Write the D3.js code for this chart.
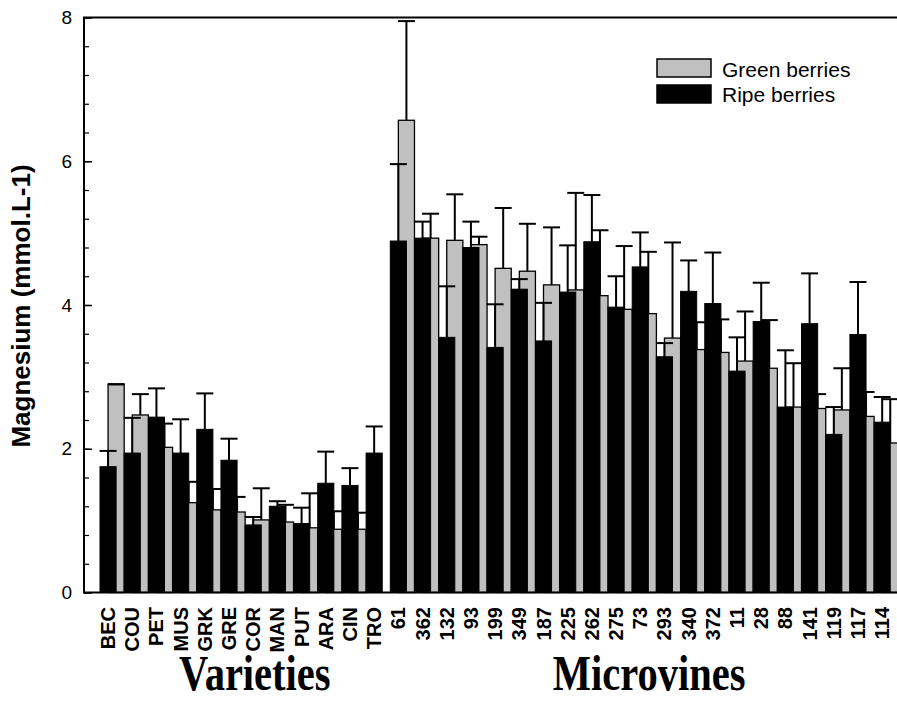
<!DOCTYPE html>
<html><head><meta charset="utf-8">
<script src="https://cdn.jsdelivr.net/npm/d3@7"></script>
<style>body{margin:0;background:#fff}svg{display:block}</style>
</head><body>
<svg id="chart" width="897" height="715"></svg>
<script>
const categories = ["BEC","COU","PET","MUS","GRK","GRE","COR","MAN","PUT","ARA","CIN","TRO",
  "61","362","132","93","199","349","187","225","262","275","73","293","340","372","11","28","88","141","119","117","114"];
const greenBerries = [2.89,2.47,2.02,1.25,1.15,1.12,1.01,0.98,0.90,0.88,0.88,null,
  6.57,4.93,4.90,4.84,4.51,4.47,4.28,4.21,4.13,3.94,3.88,3.54,3.38,3.34,3.22,3.12,2.58,2.56,2.54,2.45,2.08];
const greenErr = [0.01,0.29,0.33,0.29,0.29,0.21,0.44,0.24,0.48,0.25,0.23,null,
  1.38,0.34,0.64,0.11,0.84,0.66,0.80,1.35,0.91,0.88,0.86,1.33,0.38,0.46,0.69,0.67,0.61,0.20,0.58,0.34,0.61];
const ripeBerries = [1.75,1.94,2.44,1.94,2.27,1.84,0.94,1.20,0.96,1.52,1.49,1.94,
  4.89,4.93,3.55,4.80,3.41,4.22,3.50,4.18,4.88,3.97,4.53,3.28,4.19,4.02,3.08,3.77,2.58,3.74,2.20,3.59,2.37];
const ripeErr = [0.22,0.49,0.40,0.47,0.50,0.30,0.11,0.07,0.22,0.44,0.24,0.37,
  1.07,0.23,0.71,0.36,0.60,0.14,0.53,0.65,0.65,0.43,0.48,0.19,0.43,0.71,0.47,0.54,0.79,0.70,0.38,0.73,0.35];
const yTickValues = [0,2,4,6,8];
const yAxisTitle = "Magnesium (mmol.L-1)";
const legendLabels = ["Green berries","Ripe berries"];
const groupLabels = ["Varieties","Microvines"];

const svg = d3.select("#chart");
const pLeft = 84, pTop = 17.5, pBottom = 592.5, pRight = 898.5;
const x = d3.scaleBand().domain(categories).range([100, 898.3]).padding(0);
const y = d3.scaleLinear().domain([0, 8]).range([pBottom, pTop]);
const bw = x.bandwidth();
const barW = bw * 2 / 3;
const capW = 17;

const green = categories.map((c, i) => ({c, v: greenBerries[i], e: greenErr[i]})).filter(d => d.v != null);
const ripe = categories.map((c, i) => ({c, v: ripeBerries[i], e: ripeErr[i]})).filter(d => d.v != null);

const plot = svg.append("g");
plot.selectAll("rect.g").data(green).join("rect").attr("class","g")
  .attr("x", d => x(d.c) + bw / 3).attr("width", barW)
  .attr("y", d => y(d.v)).attr("height", d => y(0) - y(d.v))
  .attr("fill", "#c0c0c0").attr("stroke", "#000").attr("stroke-width", 1.3);
function errBars(data, offset, cls) {
  const g = plot.append("g").attr("class", cls).attr("stroke", "#000").attr("stroke-width", 2);
  g.selectAll("line.v").data(data).join("line").attr("class","v")
    .attr("x1", d => x(d.c) + offset).attr("x2", d => x(d.c) + offset)
    .attr("y1", d => y(d.v)).attr("y2", d => y(d.v + d.e));
  g.selectAll("line.cap").data(data).join("line").attr("class","cap")
    .attr("x1", d => x(d.c) + offset - capW / 2).attr("x2", d => x(d.c) + offset + capW / 2)
    .attr("y1", d => y(d.v + d.e)).attr("y2", d => y(d.v + d.e));
}
errBars(green, bw * 2 / 3, "gerr");
plot.selectAll("rect.r").data(ripe).join("rect").attr("class","r")
  .attr("x", d => x(d.c)).attr("width", barW)
  .attr("y", d => y(d.v)).attr("height", d => y(0) - y(d.v))
  .attr("fill", "#000").attr("stroke", "#000").attr("stroke-width", 1);
errBars(ripe, bw / 3, "rerr");

svg.append("rect").attr("x", pLeft).attr("y", pTop).attr("width", pRight - pLeft).attr("height", pBottom - pTop)
  .attr("fill", "none").attr("stroke", "#000").attr("stroke-width", 2);

const yAxis = svg.append("g").attr("transform", `translate(${pLeft},0)`)
  .call(d3.axisLeft(y).tickValues(yTickValues).tickSize(-8).tickPadding(12).tickFormat(d3.format("d")));
yAxis.select(".domain").remove();
yAxis.selectAll("line").attr("stroke-width", 1.5);
yAxis.selectAll("text").attr("font-family", "Arial, 'Liberation Sans', sans-serif").attr("font-size", 19).attr("fill", "#000");
const yMinor = svg.append("g").attr("transform", `translate(${pLeft},0)`)
  .call(d3.axisLeft(y).tickValues(d3.range(0, 8.001, 0.4)).tickSize(-5).tickFormat(""));
yMinor.select(".domain").remove();
yMinor.selectAll("line").attr("stroke-width", 1.2);

svg.append("g").selectAll("text").data(categories).join("text")
  .attr("transform", d => `translate(${x(d) + bw / 3},607) rotate(-90)`)
  .attr("text-anchor", "end").attr("dominant-baseline", "central")
  .attr("font-family", "Arial, 'Liberation Sans', sans-serif").attr("font-weight", "bold").attr("font-size", 20)
  .text(d => d);

svg.append("text").attr("transform", "translate(21,306) rotate(-90)")
  .attr("text-anchor", "middle").attr("dominant-baseline", "central")
  .attr("font-family", "Arial, 'Liberation Sans', sans-serif").attr("font-weight", "bold").attr("font-size", 26)
  .text(yAxisTitle);

const legend = svg.append("g");
const legFill = ["#c0c0c0", "#000"];
legendLabels.forEach((t, i) => {
  legend.append("rect").attr("x", 657).attr("y", 59 + i * 26).attr("width", 54).attr("height", 18)
    .attr("fill", legFill[i]).attr("stroke", "#000").attr("stroke-width", 1.5);
  legend.append("text").attr("x", 722).attr("y", 77 + i * 25)
    .attr("font-family", "Arial, 'Liberation Sans', sans-serif").attr("font-size", 21).text(t);
});

const groupX = [x("COR") + bw * 0.4, x("275") + bw * 1.7];
groupLabels.forEach((t, i) => {
  svg.append("text").attr("transform", `translate(${groupX[i]},690) scale(0.81,1)`)
    .attr("text-anchor", "middle")
    .attr("font-family", "'Times New Roman', 'Liberation Serif', serif").attr("font-weight", "bold").attr("font-size", 50)
    .text(t);
});
</script>
</body></html>
